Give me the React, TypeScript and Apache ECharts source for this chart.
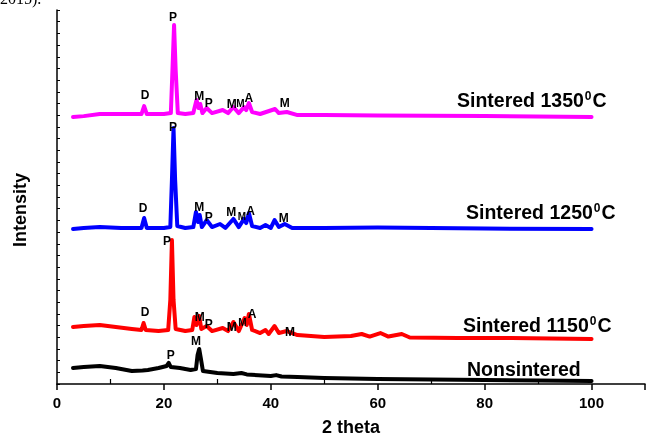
import React, { useEffect, useRef } from "react";
import * as echarts from "echarts";

// 2-theta / intensity pairs (intensity in stacked, offset counts)
const nonsintered: [number, number][] = [
  [3, 137], [5, 145], [8, 154], [11, 137], [14, 111], [16, 116], [17, 120], [19, 137], [20.5, 154],
  [20.9, 180], [21.3, 145], [23, 137], [25, 120], [26, 128], [26.3, 248], [26.6, 300], [26.9, 222],
  [27.3, 111], [30, 94], [33, 86], [34.5, 94], [35.5, 82], [40, 68], [41, 76], [42, 64], [45, 60],
  [50, 51], [55, 47], [60, 43], [65, 41], [70, 38], [80, 34], [90, 30], [100, 26],
];

const sintered1150: [number, number][] = [
  [3, 488], [5, 496], [8, 505], [11, 488], [14, 471], [15.8, 462], [16.2, 522], [16.6, 462],
  [19, 453], [20.8, 462], [21.2, 719], [21.5, 1232], [21.8, 719], [22.2, 471], [24, 453],
  [25.3, 462], [25.7, 573], [26.1, 505], [26.6, 582], [27, 471], [28, 496], [29, 453], [31, 479],
  [32, 453], [33, 530], [34, 453], [35.1, 565], [35.5, 505], [35.9, 599], [36.5, 462], [38, 436],
  [39, 462], [39.6, 428], [40.7, 496], [41.5, 436], [43, 453], [45, 419], [50, 402], [55, 411],
  [57, 428], [58.5, 406], [60.5, 436], [62, 406], [64.5, 428], [66, 398], [75, 394], [85, 394],
  [100, 385],
];

const sintered1250: [number, number][] = [
  [3, 1326], [5, 1335], [8, 1343], [12, 1335], [15.8, 1335], [16.3, 1420], [16.8, 1335],
  [20, 1335], [21.2, 1343], [21.5, 1745], [21.8, 2190], [22.1, 1745], [22.5, 1352], [24, 1335],
  [25.5, 1343], [26, 1472], [26.4, 1386], [26.7, 1446], [27.1, 1343], [28, 1403], [29, 1343],
  [30.5, 1369], [31.5, 1335], [33, 1412], [34, 1343], [35, 1412], [35.4, 1377], [35.9, 1463],
  [36.5, 1352], [38, 1335], [39, 1360], [40, 1335], [40.7, 1403], [41.5, 1343], [42.6, 1369],
  [44, 1335], [50, 1335], [60, 1339], [70, 1335], [80, 1330], [100, 1326],
];

const sintered1350: [number, number][] = [
  [3, 2284], [5, 2292], [8, 2310], [12, 2310], [15.8, 2310], [16.3, 2378], [16.8, 2310],
  [20, 2310], [21.3, 2318], [21.6, 2687], [21.9, 3072], [22.2, 2687], [22.6, 2318], [24, 2310],
  [25.5, 2318], [26.1, 2430], [26.5, 2361], [26.8, 2396], [27.2, 2318], [28, 2361], [29, 2318],
  [31, 2344], [32, 2318], [33, 2370], [34, 2318], [35, 2370], [35.4, 2344], [35.9, 2404],
  [36.5, 2327], [38, 2310], [40.8, 2353], [41.5, 2318], [43, 2327], [45, 2301], [50, 2301],
  [60, 2297], [80, 2293], [100, 2284],
];

// phase labels: [2theta, intensity, letter, small?]
const labels1350: [number, number, string, number][] = [
  [16.5, 2473, "D", 0], [21.7, 3140, "P", 0], [26.6, 2464, "M", 0], [28.4, 2404, "P", 0],
  [32.7, 2396, "M", 0], [34.3, 2396, "M", 1], [35.9, 2447, "A", 0], [42.6, 2404, "M", 0],
];
const labels1250: [number, number, string, number][] = [
  [16.1, 1506, "D", 0], [21.7, 2199, "P", 0], [26.6, 1514, "M", 0], [28.4, 1429, "P", 0],
  [32.6, 1472, "M", 0], [34.6, 1437, "M", 1], [36.2, 1480, "A", 0], [42.4, 1420, "M", 0],
];
const labels1150: [number, number, string, number][] = [
  [16.5, 616, "D", 0], [20.6, 1223, "P", 0], [26.7, 573, "M", 0], [28.4, 513, "P", 0],
  [32.7, 488, "M", 0], [34.7, 530, "M", 1], [36.5, 599, "A", 0], [43.6, 445, "M", 0],
];
const labelsNon: [number, number, string, number][] = [
  [21.3, 248, "P", 0], [26.0, 368, "M", 0],
];

const seriesNames = ["Nonsintered", "Sintered 1150", "Sintered 1250", "Sintered 1350"];
const xTicks = [0, 20, 40, 60, 80, 100];
const xMinorTicks = [10, 30, 50, 70, 90];

const FONT = "Liberation Sans, Arial, sans-serif";

function markPoints(list: [number, number, string, number][]) {
  return {
    symbol: "rect",
    symbolSize: 1,
    itemStyle: { color: "rgba(0,0,0,0)" },
    silent: true,
    data: list.map(([x, y, t, s]) => ({
      coord: [x, y],
      name: t,
      label: {
        show: true,
        position: "inside",
        formatter: t,
        color: "#000",
        fontFamily: FONT,
        fontWeight: "bold",
        fontSize: s ? 10 : 12,
      },
    })),
  };
}

function lineSeries(name: string, data: [number, number][], color: string, lbls: [number, number, string, number][]) {
  return {
    name,
    type: "line",
    data,
    xAxisIndex: 0,
    showSymbol: false,
    symbol: "none",
    lineStyle: { color, width: 4, join: "round", cap: "round" },
    markPoint: markPoints(lbls),
    z: 2,
  };
}

function richName(base: string, sup: boolean) {
  return sup ? `{a|${base}}{s|0}{a|C}` : `{a|${base}}`;
}

export default function App() {
  const ref = useRef<HTMLDivElement>(null);
  useEffect(() => {
    if (!ref.current) return;
    const chart = echarts.init(ref.current, null, { renderer: "svg" });
    const rich = {
      a: { fontFamily: FONT, fontWeight: "bold", fontSize: 19.5, color: "#000", verticalAlign: "bottom" },
      s: { fontFamily: FONT, fontWeight: "bold", fontSize: 12, color: "#000", verticalAlign: "top", padding: [0, 1, 8, 1] },
    };
    const nameText = (text: string, x: number, y: number) => ({
      type: "text",
      x,
      y,
      style: { text, rich, textVerticalAlign: "middle" },
      silent: true,
    });
    chart.setOption({
      animation: false,
      grid: { left: 57, right: 1, top: 10, bottom: 53, containLabel: false, outerBoundsMode: "none" },
      xAxis: [
        {
          type: "value",
          min: 0,
          max: 110,
          interval: 20,
          position: "bottom",
          name: "2 theta",
          nameLocation: "middle",
          nameGap: 34,
          nameTextStyle: { fontFamily: FONT, fontWeight: "bold", fontSize: 18, color: "#000" },
          axisLine: { show: true, lineStyle: { color: "#000", width: 1.5 } },
          axisTick: { show: true, inside: false, length: 6, lineStyle: { color: "#000", width: 1.5 } },
          axisLabel: {
            show: true,
            margin: 11,
            color: "#000",
            fontFamily: FONT,
            fontWeight: "bold",
            fontSize: 15,
            customValues: xTicks,
          },
          splitLine: { show: false },
        },
        {
          type: "value",
          min: 0,
          max: 110,
          interval: 10,
          position: "bottom",
          axisLine: { show: false },
          axisTick: { show: true, inside: true, length: 5, customValues: xMinorTicks, lineStyle: { color: "#000", width: 1.2 } },
          axisLabel: { show: false },
          splitLine: { show: false },
        },
      ],
      yAxis: {
        type: "value",
        min: 0,
        max: 3200,
        interval: 100,
        axisLine: { show: true, lineStyle: { color: "#000", width: 1.5 } },
        axisTick: { show: true, inside: true, length: 3, lineStyle: { color: "#000", width: 1 } },
        axisLabel: { show: false },
        splitLine: { show: false },
      },
      series: [
        lineSeries(seriesNames[0], nonsintered, "#000000", labelsNon),
        lineSeries(seriesNames[1], sintered1150, "#ff0000", labels1150),
        lineSeries(seriesNames[2], sintered1250, "#0000ff", labels1250),
        lineSeries(seriesNames[3], sintered1350, "#ff00ff", labels1350),
      ],
      graphic: [
        {
          type: "text",
          x: 20,
          y: 210,
          rotation: Math.PI / 2,
          style: {
            text: "Intensity",
            fontFamily: FONT,
            fontWeight: "bold",
            fontSize: 18,
            fill: "#000",
            textAlign: "center",
            textVerticalAlign: "middle",
          },
          silent: true,
        },
        {
          type: "text",
          x: 0,
          y: -10,
          style: { text: "2015).", fontFamily: "Liberation Serif, serif", fontSize: 16, fill: "#000" },
          silent: true,
        },
        nameText(richName(seriesNames[3], true), 457, 100),
        nameText(richName(seriesNames[2], true), 466, 212),
        nameText(richName(seriesNames[1], true), 463, 325),
        nameText(richName(seriesNames[0], false), 467, 369),
      ],
    });
    return () => chart.dispose();
  }, []);
  return <div ref={ref} style={{ position: "fixed", left: 0, top: 0, width: 646, height: 437 }} />;
}
